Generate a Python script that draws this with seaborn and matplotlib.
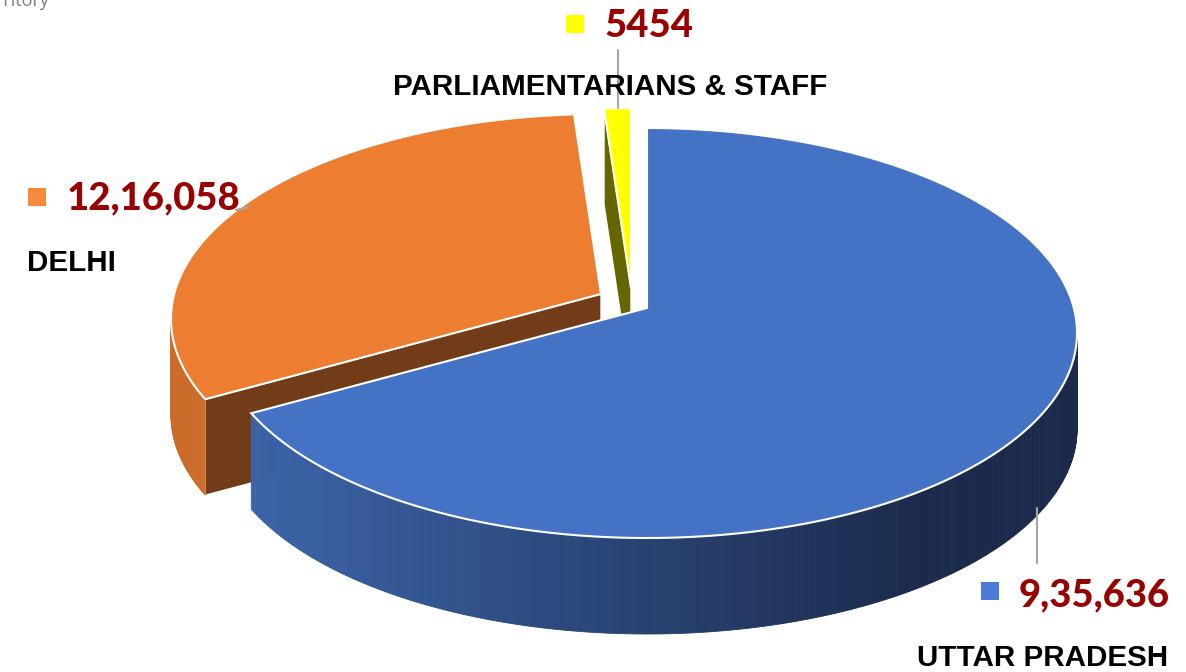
import numpy as np
import matplotlib
matplotlib.use("Agg")
import matplotlib.pyplot as plt
from matplotlib.patches import Polygon
from matplotlib.colors import to_rgb
import seaborn as sns

# ---------------- data ----------------
categories = ["UTTAR PRADESH", "DELHI", "PARLIAMENTARIANS & STAFF"]
value_labels = ["9,35,636", "12,16,058", "5454"]
shares = [68.6, 30.4, 1.0]          # slice share of the pie (%) as drawn

# ---------------- styles / layout ----------------
top_colors = ["#4472C4", "#ED7D31", "#FFFF00"]
face_colors = ["#2B4A80", "#713C17", "#666600"]
wall_grad = [("#3B64A8", "#1B2A4B"), ("#CB6C2B", "#C0632A"), ("#999900", "#999900")]
marker_colors = ["#4A7BD6", "#F58A3C", "#FFFF00"]
explode = [(0, 0), (-46, -14), (-16, -20)]
label_pos = [  # (marker x, marker y, number x, number y, name x, name y, name ha)
    (990, 591, 1019, 595, 917, 658, "left"),
    (37, 197, 67, 198, 27, 263, "left"),
    (575, 24, 605, 26, 610, 87, "center"),
]
CX, CY, A, B, H = 647, 333, 430, 205, 96
LIFT = -25          # perspective: apparent rise of the pie centre
START = 90

sns.set_theme(style="white")
fig = plt.figure(figsize=(11.86, 6.72), dpi=100)
ax = fig.add_axes([0, 0, 1, 1])
ax.set_xlim(0, 1186)
ax.set_ylim(672, 0)
ax.axis("off")


def pt(theta, r, z, off):
    t = np.radians(theta)
    lift = LIFT * (1 - r)
    return (CX + off[0] + A * r * np.cos(t),
            CY + off[1] - B * r * np.sin(t) + H * z + lift)


total = float(sum(shares))
bounds = START - 360.0 * np.concatenate([[0], np.cumsum(shares)]) / total
slices = [(bounds[i + 1], bounds[i]) for i in range(len(shares))]  # (theta1, theta2) ccw

mids = [np.sin(np.radians((a + b) / 2)) for a, b in slices]
order = np.argsort(mids)[::-1]  # back to front

z = 1
for i in order:
    t1, t2 = slices[i]
    off = explode[i]
    # radial faces
    for th, ny in ((t1, -np.cos(np.radians(t1))), (t2, np.cos(np.radians(t2)))):
        if ny < -0.01:
            poly = [pt(th, 0, 0, off), pt(th, 1, 0, off), pt(th, 1, 1, off), pt(th, 0, 1, off)]
            ax.add_patch(Polygon(poly, closed=True, facecolor=face_colors[i],
                                 edgecolor="white", lw=1.0, zorder=z))
            z += 1
    # curved outer wall
    ths = np.linspace(t1, t2, int(abs(t2 - t1) * 2) + 2)
    c0, c1 = np.array(to_rgb(wall_grad[i][0])), np.array(to_rgb(wall_grad[i][1]))
    for a, b in zip(ths[:-1], ths[1:]):
        m = (a + b) / 2
        if np.sin(np.radians(m)) >= 0:
            continue
        frac = np.clip((np.cos(np.radians(m)) + 0.92) / 1.55, 0, 1)
        col = c0 * (1 - frac) + c1 * frac
        poly = [pt(a, 1, 0, off), pt(b, 1, 0, off), pt(b, 1, 1, off), pt(a, 1, 1, off)]
        ax.add_patch(Polygon(poly, closed=True, facecolor=col, edgecolor=col,
                             lw=0.6, zorder=z))
    z += 1

for i in order:
    t1, t2 = slices[i]
    off = explode[i]
    ths = np.linspace(t2, t1, int(abs(t2 - t1) * 2) + 2)
    poly = [pt(t2, 0, 0, off)] + [pt(t, 1, 0, off) for t in ths]
    ax.add_patch(Polygon(poly, closed=True, facecolor=top_colors[i],
                         edgecolor="white", lw=1.5, joinstyle="miter", zorder=z))
    z += 1

# leader lines
lc = "#A6A6A6"
ax.plot([618, 618], [50, 108], color=lc, lw=1.5, zorder=z)
ax.plot([1037, 1037], [508, 563], color=lc, lw=1.5, zorder=z)
ax.plot([236, 248], [210, 207], color=lc, lw=1.5, zorder=z)

# labels
for i in range(len(categories)):
    mx, my, nx, ny, cx_, cy_, ha = label_pos[i]
    ax.scatter([mx], [my], marker="s", s=165, color=marker_colors[i],
               linewidths=0, zorder=z + 1)
    ax.text(nx, ny, value_labels[i], ha="left", va="center", color="#990000",
            fontsize=27.5, fontweight=900, family="Lato", zorder=z + 2)
    ax.text(cx_, cy_, categories[i], ha=ha, va="center", color="black",
            fontsize=21.3, fontweight="bold", family="Liberation Sans", zorder=z + 2)

ax.text(50, 6, "Territory", ha="right", va="baseline", color="#7F7F7F",
        fontsize=13, family="Open Sans", zorder=z)

fig.savefig("out.png", dpi=100)
